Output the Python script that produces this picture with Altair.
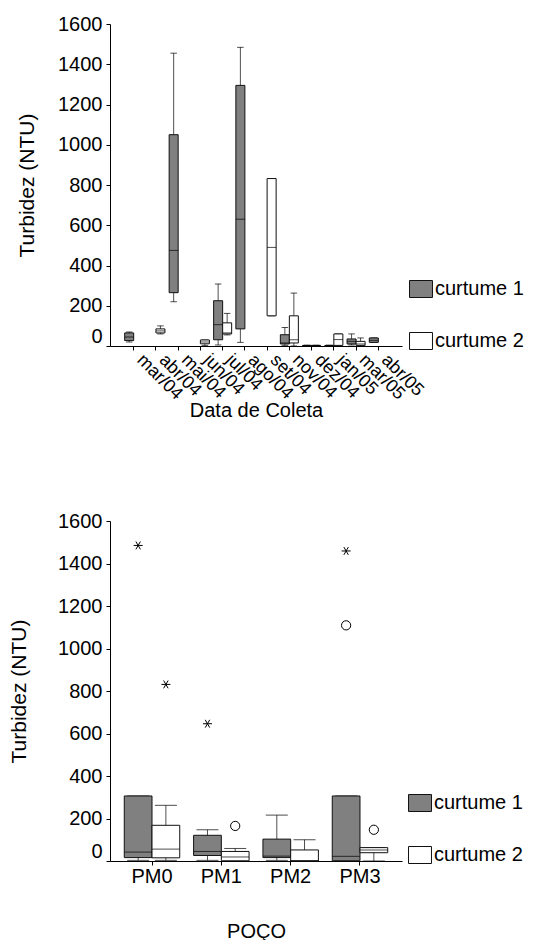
import altair as alt
import pandas as pd

FONTE = "Liberation Sans"
GRUPOS = ["curtume 1", "curtume 2"]
CORES = ["#808080", "#ffffff"]

# ---- turbidez por mês de coleta: [mín, Q1, mediana, Q3, máx] ----
meses = ["mar/04", "abr/04", "mai/04", "jun/04", "jul/04", "ago/04",
         "set/04", "nov/04", "dez/04", "jan/05", "mar/05", "abr/05"]
curtume1_mes = [
    [20, 27, 45, 65, 70],
    None,
    [220, 265, 475, 1050, 1455],
    None,
    [5, 31, 106, 225, 308],
    [18, 85, 630, 1295, 1484],
    None,
    [3, 10, 15, 56, 92],
    [0, 1, 2, 3, 4],
    [0, 1, 2, 3, 4],
    [5, 10, 23, 35, 60],
    [18, 18, 28, 40, 40],
]
curtume2_mes = [
    None,
    [60, 65, 75, 85, 100],
    None,
    [3, 11, 20, 30, 30],
    [55, 60, 65, 115, 162],
    None,
    [150, 150, 490, 832, 832],
    [0, 15, 31, 150, 263],
    [0, 1, 2, 3, 4],
    [3, 3, 32, 60, 60],
    [0, 3, 10, 23, 40],
    None,
]

# ---- turbidez por poço ----
pocos = ["PM0", "PM1", "PM2", "PM3"]
curtume1_poco = [
    [3, 16, 42, 306, 306],
    [3, 26, 45, 121, 147],
    [3, 16, 23, 103, 216],
    [0, 1, 22, 306, 306],
]
curtume2_poco = [
    [3, 15, 56, 168, 262],
    [1, 1, 19, 45, 59],
    [0, 0, 2, 52, 100],
    [0, 39, 52, 63, 63],
]
# valores extremos (*) e atípicos (o)
extremos_poco = ["PM0", "PM0", "PM1", "PM3"]
extremos_grupo = ["curtume 1", "curtume 2", "curtume 1", "curtume 1"]
extremos_valor = [1485, 831, 646, 1459]
atipicos_poco = ["PM1", "PM3", "PM3"]
atipicos_grupo = ["curtume 2", "curtume 1", "curtume 2"]
atipicos_valor = [165, 1109, 147]

RETANGULO = "M-1.35,-1L1.35,-1L1.35,1L-1.35,1Z"
ASTERISCO = "M-1,0L1,0M-0.5,-0.866L0.5,0.866M-0.5,0.866L0.5,-0.866"


def resumo(cats, g1, g2, campo):
    linhas = []
    for grupo, serie in zip(GRUPOS, (g1, g2)):
        for c, s in zip(cats, serie):
            if s is None:
                continue
            mn, q1, md, q3, mx = s
            linhas.append({campo: c, "grupo": grupo, "min": mn, "q1": q1,
                           "mediana": md, "q3": q3, "max": mx})
    return pd.DataFrame(linhas)


def eixo_y(title_pad):
    return alt.Axis(
        values=list(range(0, 1601, 200)), format="d", title="Turbidez (NTU)",
        titleFontSize=21, titlePadding=title_pad,
        labelOffset={"condition": {"test": "datum.value === 0", "value": -10}, "value": 0},
    )


def painel(df, campo, ordem, eixo_x, x_titulo, box_w, cap_w, p_in, p_out,
           legenda, title_pad):
    x = alt.X(f"{campo}:N", sort=ordem, title=x_titulo, axis=eixo_x,
              scale=alt.Scale(domain=ordem, paddingInner=p_in, paddingOuter=p_out))
    xo = alt.XOffset("grupo:N", scale=alt.Scale(domain=GRUPOS, paddingInner=0, paddingOuter=0))
    ys = alt.Scale(domain=[0, 1600], nice=False)
    base = alt.Chart(df)
    bigode = base.mark_rule(color="#505050", strokeWidth=1).encode(
        x=x, xOffset=xo,
        y=alt.Y("min:Q", scale=ys, axis=eixo_y(title_pad)),
        y2="max:Q")
    topo = base.mark_tick(color="black", size=cap_w, thickness=1).encode(
        x=x, xOffset=xo, y=alt.Y("max:Q", scale=ys))
    pe = base.mark_tick(color="black", size=cap_w, thickness=1).encode(
        x=x, xOffset=xo, y=alt.Y("min:Q", scale=ys))
    caixa = base.mark_bar(stroke="#111111", strokeWidth=1).encode(
        x=x, xOffset=xo,
        y=alt.Y("q1:Q", scale=ys), y2="q3:Q",
        fill=alt.Fill("grupo:N", scale=alt.Scale(domain=GRUPOS, range=CORES),
                      legend=legenda))
    mediana = base.mark_tick(color="black", size=box_w, thickness=1).encode(
        x=x, xOffset=xo, y=alt.Y("mediana:Q", scale=ys))
    return [bigode, topo, pe, caixa, mediana], ys, x, xo


def legenda(lx, ly):
    return alt.Legend(
        title=None, orient="none", legendX=lx, legendY=ly, direction="vertical",
        symbolType=RETANGULO, symbolSize=289, symbolStrokeColor="#111111",
        symbolStrokeWidth=1, labelFontSize=20, labelOffset=4, rowPadding=30,
    )


# painel superior: por data de coleta
df_mes = resumo(meses, curtume1_mes, curtume2_mes, "mes")
eixo_mes = alt.Axis(labelAngle=45, labelAlign="left", labelBaseline="middle",
                    labelFontSize=18, labelOffset=6, labelPadding=7, titlePadding=-2)
camadas_sup, _, _, _ = painel(df_mes, "mes", meses, eixo_mes, "Data de Coleta",
                              9, 6.5, 0.19, 0.66, legenda(301, 255), 20)
superior = alt.layer(*camadas_sup).properties(width=292, height=322)

# painel inferior: por poço
df_poco = resumo(pocos, curtume1_poco, curtume2_poco, "poco")
eixo_poco = alt.Axis(labelAngle=0, labelPadding=1, titlePadding=35)
camadas_inf, ys, xp, xop = painel(df_poco, "poco", pocos, eixo_poco, "POÇO",
                                  27.5, 22, 0.2, 0.206, legenda(300, 272), 28)

df_ext = pd.DataFrame({"poco": extremos_poco, "grupo": extremos_grupo, "valor": extremos_valor})
df_atp = pd.DataFrame({"poco": atipicos_poco, "grupo": atipicos_grupo, "valor": atipicos_valor})
extremos = alt.Chart(df_ext).mark_point(shape=ASTERISCO, size=81, filled=False,
                                        stroke="black", strokeWidth=1, opacity=1).encode(
    x=xp, xOffset=xop, y=alt.Y("valor:Q", scale=ys))
atipicos = alt.Chart(df_atp).mark_point(shape="circle", size=85, filled=False,
                                        stroke="black", strokeWidth=1, opacity=1).encode(
    x=xp, xOffset=xop, y=alt.Y("valor:Q", scale=ys))
inferior = alt.layer(*camadas_inf, extremos, atipicos).properties(width=292, height=340)

chart = alt.concat(superior, inferior, columns=1, align="none", spacing=90).resolve_scale(
    x="independent", y="independent", fill="independent", xOffset="independent"
).resolve_legend(fill="independent").properties(
    padding={"left": 8, "top": 14, "right": 0, "bottom": 0},
    autosize=alt.AutoSizeParams(type="pad"),
).configure_view(stroke=None).configure_axis(
    labelFont=FONTE, titleFont=FONTE, labelFontSize=20, titleFontSize=20,
    labelColor="black", titleColor="black", titleFontWeight="normal",
    domainColor="black", tickColor="black", tickSize=4, grid=False,
    labelPadding=4,
).configure_legend(labelFont=FONTE, labelColor="black")

chart.save("out.html", embed_options={"renderer": "svg", "actions": False})
